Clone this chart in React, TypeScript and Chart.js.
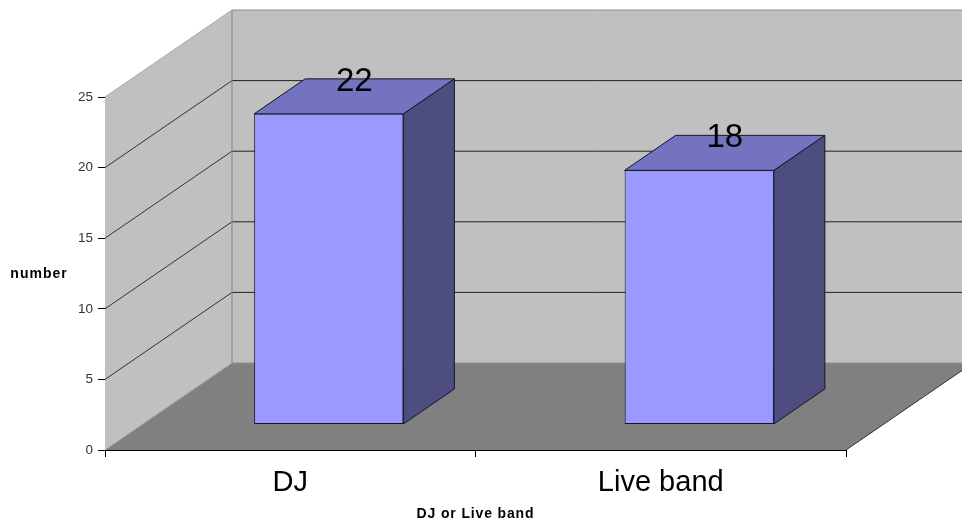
import React, { useEffect, useRef } from "react";
import { Chart, registerables } from "chart.js";

Chart.register(...registerables);

const categories = ["DJ", "Live band"];
const counts = [22, 18];
const yTicks = [0, 5, 10, 15, 20, 25];
const xTitle = "DJ or Live band";
const yTitle = "number";

const FONT = "'Liberation Sans', Arial, sans-serif";
const DEPTH_X = 127;
const DEPTH_Y = -87;
const BAR_SHIFT_X = 38.5;
const BAR_SHIFT_Y = -25.5;
const BAR_DEPTH_X = 51;
const BAR_DEPTH_Y = -35;

function poly(ctx: CanvasRenderingContext2D, pts: number[][], fill: string | null, stroke: string | null, lw = 1) {
  ctx.beginPath();
  pts.forEach((p, i) => (i ? ctx.lineTo(p[0], p[1]) : ctx.moveTo(p[0], p[1])));
  ctx.closePath();
  if (fill) {
    ctx.fillStyle = fill;
    ctx.fill();
  }
  if (stroke) {
    ctx.strokeStyle = stroke;
    ctx.lineWidth = lw;
    ctx.stroke();
  }
}

function line(ctx: CanvasRenderingContext2D, x1: number, y1: number, x2: number, y2: number, c: string, lw = 1) {
  ctx.beginPath();
  ctx.moveTo(x1, y1);
  ctx.lineTo(x2, y2);
  ctx.strokeStyle = c;
  ctx.lineWidth = lw;
  ctx.stroke();
}

const box3d = {
  id: "box3d",
  beforeDatasetsDraw(chart: any) {
    const { ctx, chartArea: a, scales } = chart;
    const y = scales.y;
    const L = a.left, R = a.right, T = a.top, B = a.bottom;
    ctx.save();
    // back wall
    poly(ctx, [[L + DEPTH_X, T + DEPTH_Y], [R + DEPTH_X, T + DEPTH_Y], [R + DEPTH_X, B + DEPTH_Y], [L + DEPTH_X, B + DEPTH_Y]], "#c0c0c0", null);
    // side wall
    poly(ctx, [[L, B], [L + DEPTH_X, B + DEPTH_Y], [L + DEPTH_X, T + DEPTH_Y], [L, T]], "#c0c0c0", null);
    // floor
    poly(ctx, [[L, B], [L + DEPTH_X, B + DEPTH_Y], [R + DEPTH_X, B + DEPTH_Y], [R, B]], "#808080", null);
    // grid lines
    yTicks.forEach((v) => {
      if (v === 0 || v === 25) return;
      const py = y.getPixelForValue(v);
      line(ctx, L, py, L + DEPTH_X, py + DEPTH_Y, "#333");
      line(ctx, L + DEPTH_X, py + DEPTH_Y, R + DEPTH_X, py + DEPTH_Y, "#222");
    });
    // wall edges
    line(ctx, L, T, L + DEPTH_X, T + DEPTH_Y, "#a8a8a8");
    line(ctx, L + DEPTH_X, T + DEPTH_Y, R + DEPTH_X, T + DEPTH_Y, "#909090");
    line(ctx, L + DEPTH_X, T + DEPTH_Y, L + DEPTH_X, B + DEPTH_Y, "#808080");
    line(ctx, L + DEPTH_X, B + DEPTH_Y, R + DEPTH_X, B + DEPTH_Y, "#909090");
    line(ctx, L, B, L + DEPTH_X, B + DEPTH_Y, "#a0a0a0");
    line(ctx, R, B, R + DEPTH_X, B + DEPTH_Y, "#333");
    // side and top faces of the bars
    chart.getDatasetMeta(0).data.forEach((bar: any) => {
      const x0 = bar.x - bar.width / 2 + BAR_SHIFT_X;
      const x1 = bar.x + bar.width / 2 + BAR_SHIFT_X;
      const yt = bar.y + BAR_SHIFT_Y;
      const yb = bar.base + BAR_SHIFT_Y;
      poly(ctx, [[x1, yt], [x1 + BAR_DEPTH_X, yt + BAR_DEPTH_Y], [x1 + BAR_DEPTH_X, yb + BAR_DEPTH_Y], [x1, yb]], "#4d4d80", "#15152a");
      poly(ctx, [[x0, yt], [x0 + BAR_DEPTH_X, yt + BAR_DEPTH_Y], [x1 + BAR_DEPTH_X, yt + BAR_DEPTH_Y], [x1, yt]], "#7373bf", "#15152a");
    });
    ctx.restore();
  },
  beforeDatasetDraw(chart: any) {
    chart.ctx.save();
    chart.ctx.translate(BAR_SHIFT_X, BAR_SHIFT_Y);
  },
  afterDatasetDraw(chart: any) {
    chart.ctx.restore();
  },
  afterDatasetsDraw(chart: any) {
    const { ctx, chartArea: a } = chart;
    ctx.save();
    ctx.fillStyle = "#000";
    ctx.textBaseline = "alphabetic";
    ctx.textAlign = "center";
    ctx.font = `33px ${FONT}`;
    chart.getDatasetMeta(0).data.forEach((bar: any, i: number) => {
      ctx.fillText(String(counts[i]), bar.x + BAR_SHIFT_X + BAR_DEPTH_X / 2, bar.y + BAR_SHIFT_Y + BAR_DEPTH_Y + 12);
    });
    ctx.font = `bold 14px ${FONT}`;
    ctx.letterSpacing = "1px";
    ctx.fillText(yTitle, 39, 278);
    ctx.letterSpacing = "0.85px";
    ctx.fillText(xTitle, (a.left + a.right) / 2, 518);
    ctx.restore();
  },
};

export default function App() {
  const ref = useRef<HTMLCanvasElement>(null);
  useEffect(() => {
    const chart = new Chart(ref.current!, {
      type: "bar",
      data: {
        labels: categories,
        datasets: [
          {
            data: counts,
            backgroundColor: "#9999ff",
            borderColor: "#15152a",
            borderWidth: 1,
            borderSkipped: false,
            barPercentage: 0.4027,
            categoryPercentage: 1,
          },
        ],
      },
      plugins: [box3d],
      options: {
        animation: false,
        responsive: false,
        devicePixelRatio: 1,
        layout: { padding: { left: 0, top: 97, right: 116, bottom: 0 } },
        plugins: {
          legend: { display: false },
          tooltip: { enabled: false },
        },
        scales: {
          x: {
            afterFit: (s: any) => {
              s.height = 71;
            },
            border: { color: "#000", width: 1 },
            grid: { drawOnChartArea: false, tickLength: 7, color: "#000" },
            ticks: { color: "#000", padding: 9, maxRotation: 0, font: { family: FONT, size: 29 } },
          },
          y: {
            min: 0,
            max: 25,
            afterFit: (s: any) => {
              s.width = 105;
            },
            border: { color: "#000", width: 1 },
            grid: { drawOnChartArea: false, tickLength: 7, color: "#000" },
            afterBuildTicks: (s: any) => {
              s.ticks = yTicks.map((value) => ({ value }));
            },
            ticks: { color: "#333", padding: 5, font: { family: FONT, size: 13.5 } },
          },
        },
      } as any,
    });
    return () => chart.destroy();
  }, []);
  return (
    <div style={{ position: "absolute", left: 0, top: 0, width: 962, height: 521, background: "#fff" }}>
      <canvas ref={ref} width={962} height={521} style={{ display: "block", width: 962, height: 521 }} />
    </div>
  );
}
